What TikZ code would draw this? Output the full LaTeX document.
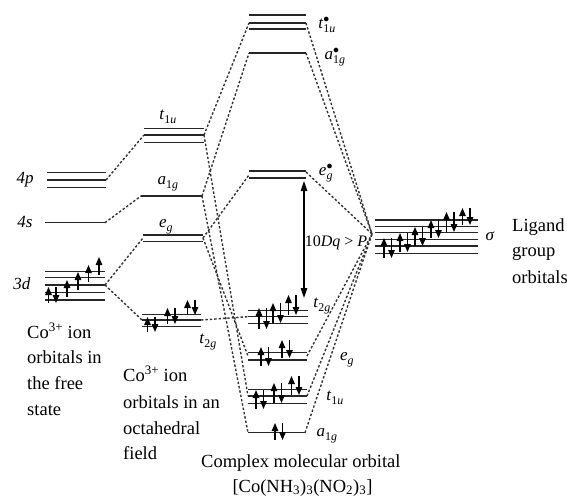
\documentclass[tikz,border=0pt]{standalone}
\usepackage{fontspec}
\setmainfont{Liberation Serif}
\usepackage{amsmath}
\usetikzlibrary{arrows.meta}
\tikzset{
 lvl/.style={line width=1.4pt, black!85},
 conn/.style={line width=1.4pt, dash pattern=on 2.4pt off 2pt, black!80},
 elec/.style={line width=1.3pt, -{Triangle[length=8pt,width=6.5pt]}},
 olab/.style={font=\fontsize{17}{20}\selectfont, inner sep=0pt},
 captxt/.style={font=\fontsize{18.5}{22}\selectfont, inner sep=0pt, anchor=base west},
 gaparrow/.style={line width=1.2pt, {Triangle[length=10pt,width=6.5pt]}-{Triangle[length=10pt,width=6.5pt]}},
}
\newcommand{\orb}[3]{\textit{#1}$_{\text{#2}}^{#3}$}
\newcommand{\eup}[3]{\draw[elec] (#1,#2) -- (#1,#3);}
\newcommand{\epair}[3]{\draw[elec] (#1,#2) -- (#1,#3); \draw[elec] ({#1+7.5},#3) -- ({#1+7.5},#2);}
\begin{document}
\begin{tikzpicture}[x=1pt,y=-1pt]
\useasboundingbox (0,0) rectangle (567,497);
% ---------- free ion ----------
\foreach \y in {172.7,180,187.7} \draw[lvl] (47,\y) -- (106,\y);
\draw[lvl] (45,222.7) -- (105,222.7);
\foreach \y in {271.7,277.7,285,292.3,300} \draw[lvl] (45,\y) -- (105,\y);
\coordinate (p4) at (106,180);
\coordinate (s4) at (105,222.7);
\coordinate (d3) at (105,285);
\epair{48.5}{303}{287}
\eup{67}{297}{280}
\eup{78}{290}{272}
\eup{88.5}{282}{265}
\eup{99}{275}{257}
% ---------- octahedral field ----------
\foreach \y in {128.3,135,142.3} \draw[lvl] (144,\y) -- (204,\y);
\coordinate (ot1uL) at (144,135); \coordinate (ot1uR) at (204,135);
\draw[lvl] (141,196) -- (202,196);
\coordinate (oa1gL) at (141,196); \coordinate (oa1gR) at (202,196);
\foreach \y in {235,241.7} \draw[lvl] (143,\y) -- (203,\y);
\coordinate (oegL) at (143,238); \coordinate (oegR) at (203,238);
\foreach \y in {314.3,320,326.7} \draw[lvl] (142,\y) -- (201,\y);
\coordinate (ot2gL) at (142,320); \coordinate (ot2gR) at (201,320);
\epair{147.5}{332}{317}
\epair{167.5}{324}{308}
\epair{187.5}{315}{300}
% ---------- complex ----------
\foreach \y in {15,23,29} \draw[lvl] (249,\y) -- (306,\y);
\coordinate (ct1usL) at (249,23); \coordinate (ct1usR) at (306,23);
\draw[lvl] (249,53) -- (306,53);
\coordinate (ca1gsL) at (249,53); \coordinate (ca1gsR) at (306,53);
\foreach \y in {171,178} \draw[lvl] (249,\y) -- (306,\y);
\coordinate (cegsL) at (249,175); \coordinate (cegsR) at (306,172);
\foreach \y in {310.7,316.7,323.3} \draw[lvl] (248,\y) -- (308,\y);
\coordinate (ct2gL) at (248,316.7);
\epair{259}{329}{308}
\epair{273}{323}{303}
\epair{288.5}{315}{295}
\foreach \y in {352.7,360} \draw[lvl] (248,\y) -- (307,\y);
\coordinate (cegL) at (248,356); \coordinate (cegR) at (307,356);
\epair{261}{366}{347}
\epair{282}{358}{340}
\foreach \y in {389.3,396,403.3} \draw[lvl] (248,\y) -- (307,\y);
\coordinate (ct1uL) at (248,396); \coordinate (ct1uR) at (307,396);
\epair{256}{409}{390}
\epair{274}{403}{383}
\epair{291.5}{395}{376}
\draw[lvl] (248,432.7) -- (305,432.7);
\coordinate (ca1gL) at (248,432.7); \coordinate (ca1gR) at (305,432.7);
\epair{275}{440}{423}
% ---------- ligand ----------
\foreach \y in {220,226.3,232.7,239.3,246,253.3} \draw[lvl] (375,\y) -- (478,\y);
\coordinate (lig) at (372,234);
\epair{384}{258}{238}
\epair{400}{252}{233}
\epair{415}{246}{227}
\epair{431}{238}{220}
\epair{446.5}{232}{212}
\epair{462.5}{225}{208}
% ---------- connectors ----------
\draw[conn] (p4) -- (ot1uL);
\draw[conn] (s4) -- (oa1gL);
\draw[conn] (d3) -- (oegL);
\draw[conn] (d3) -- (ot2gL);
\draw[conn] (ot1uR) -- (ct1usL);
\draw[conn] (ot1uR) -- (ct1uL);
\draw[conn] (oa1gR) -- (ca1gsL);
\draw[conn] (oa1gR) -- (ca1gL);
\draw[conn] (oegR) -- (cegsL);
\draw[conn] (oegR) -- (cegL);
\draw[conn] (ot2gR) -- (ct2gL);
\draw[conn] (ct1usR) -- (lig);
\draw[conn] (ca1gsR) -- (lig);
\draw[conn] (cegsR) -- (lig);
\draw[conn] (cegR) -- (lig);
\draw[conn] (ct1uR) -- (lig);
\draw[conn] (ca1gR) -- (lig);
% ---------- 10Dq arrow ----------
\coordinate (gtop) at (304,181);
\coordinate (gbot) at (304,298);
\draw[gaparrow] (gbot) -- (gtop);
\node[olab, font=\fontsize{16}{18}\selectfont] (gaplab) at (336,243) {10\textit{Dq} > \textit{P}};
% ---------- orbital labels ----------
\node[olab] (l4p) at (25,180) {\textit{4p}};
\node[olab] (l4s) at (25,222) {\textit{4s}};
\node[olab] (l3d) at (22,284) {\textit{3d}};
\node[olab] (lot1u) at (168,117) {\orb{t}{1\textit{u}}{}};
\node[olab] (loa1g) at (168,184) {\orb{a}{1\textit{g}}{}};
\node[olab] (loeg) at (166,227) {\orb{e}{\textit{g}}{}};
\node[olab] (lot2g) at (208,342) {\orb{t}{2\textit{g}}{}};
\node[olab] (lct1us) at (327,25) {\orb{t}{1\textit{u}}{\bullet}};
\node[olab] (lca1gs) at (335,57) {\orb{a}{1\textit{g}}{\bullet}};
\node[olab] (lcegs) at (326,173) {\orb{e}{\textit{g}}{\bullet}};
\node[olab] (lct2g) at (322,306) {\orb{t}{2\textit{g}}{}};
\node[olab] (lceg) at (347,360) {\orb{e}{\textit{g}}{}};
\node[olab] (lct1u) at (335,398) {\orb{t}{1\textit{u}}{}};
\node[olab] (lca1g) at (327,436) {\orb{a}{1\textit{g}}{}};
\node[olab] (lsig) at (490,236) {\textit{σ}};
% ---------- captions ----------
\node[captxt] (c1a) at (27,338) {Co\textsuperscript{3+} ion};
\node[captxt] (c1b) at (27,363) {orbitals in};
\node[captxt] (c1c) at (27,389) {the free};
\node[captxt] (c1d) at (27,415) {state};
\node[captxt] (c2a) at (123,381) {Co\textsuperscript{3+} ion};
\node[captxt] (c2b) at (123,408) {orbitals in an};
\node[captxt] (c2c) at (123,434) {octahedral};
\node[captxt] (c2d) at (123,459) {field};
\node[captxt] (c3a) at (512,231) {Ligand};
\node[captxt] (c3b) at (512,256) {group};
\node[captxt] (c3c) at (512,283) {orbitals};
\node[captxt] (c4a) at (201,467) {Complex molecular orbital};
\node[captxt, anchor=base] (c4b) at (302.5,492) {[Co(NH\textsubscript{3})\textsubscript{3}(NO\textsubscript{2})\textsubscript{3}]};
\end{tikzpicture}
\end{document}
